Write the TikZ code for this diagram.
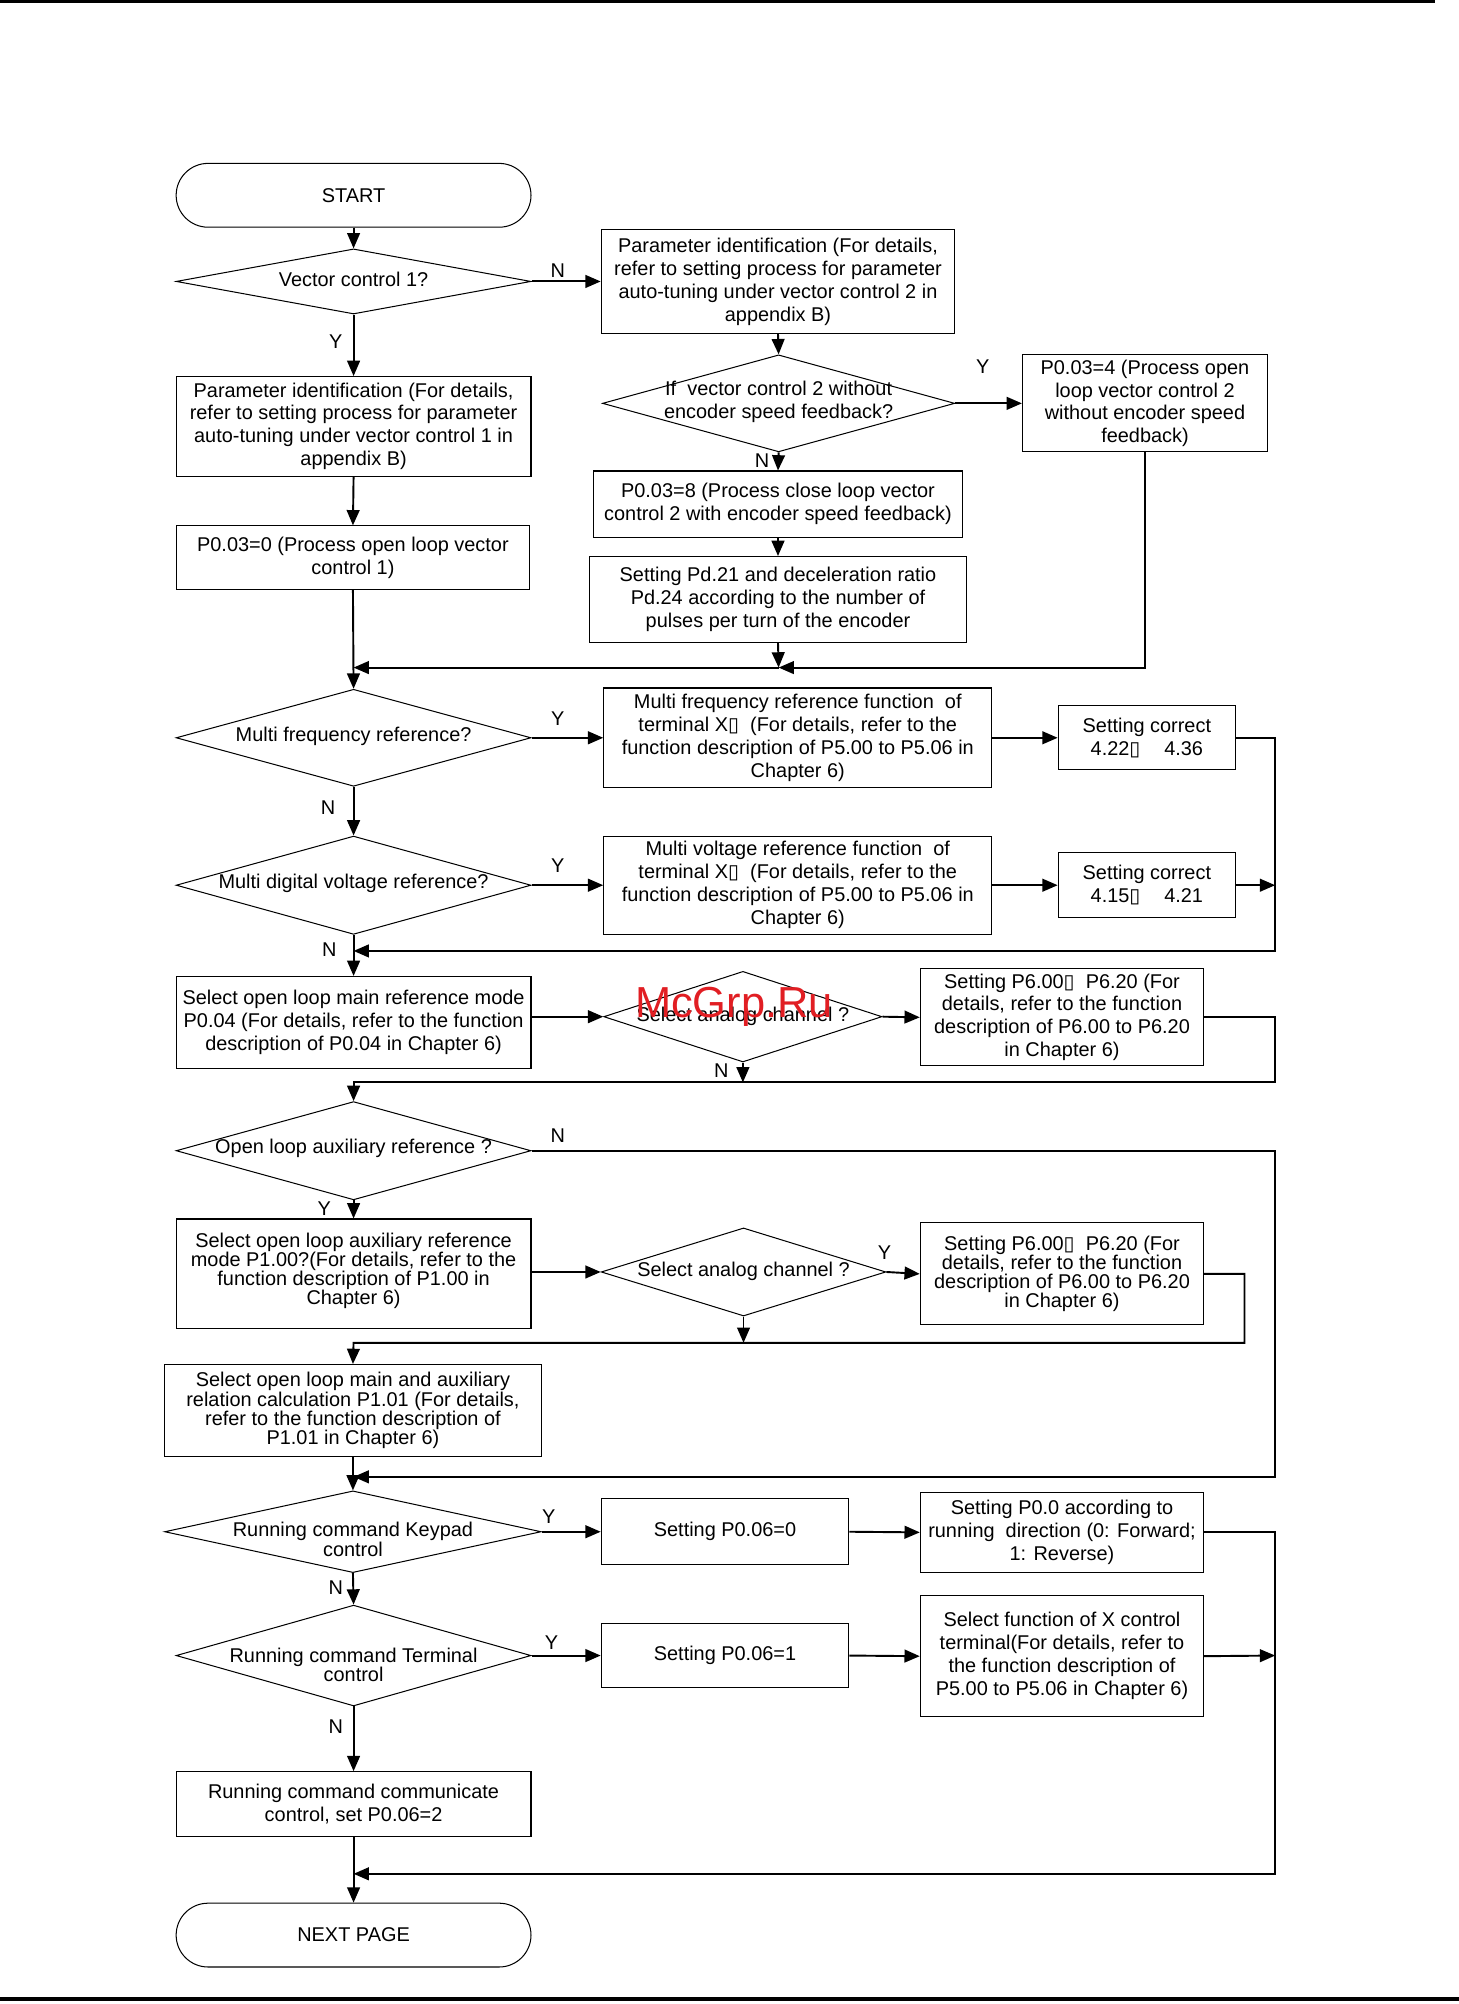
\documentclass[tikz,border=0pt]{standalone}
\usepackage{fontspec}
\setmainfont{Liberation Sans}
\newfontfamily\djv{DejaVu Sans}
\usetikzlibrary{shapes.geometric,arrows.meta}
\newcommand{\bxg}{{\djv\char"25AF}}
\definecolor{wmred}{RGB}{225,30,35}
\begin{document}
\begin{tikzpicture}[x=1pt,y=-1pt,
  font=\fontsize{15.6}{18}\selectfont,
  bx/.style 2 args={draw, line width=0.8pt, rectangle, inner sep=0pt, align=center, minimum width=#1, minimum height=#2},
  dm/.style 2 args={draw, diamond, line width=0.8pt, inner sep=0pt, minimum width=#1, minimum height=#2},
  term/.style={draw, line width=0.8pt, rounded corners=25pt, minimum width=278pt, minimum height=50pt, inner sep=0pt},
  txt/.style={inner sep=0pt, align=center},
  tight/.style={font=\fontsize{15.6}{15}\selectfont},
  lb/.style={inner sep=0pt},
  ar/.style={line width=1.5pt, -{Triangle[length=12pt,width=10pt]}},
  ln/.style={line width=1.5pt},
  rule/.style={line width=2.6pt}
]
\useasboundingbox (0,0) rectangle (1143,1570);
\coordinate (tl) at (0,1.3);
\coordinate (tr) at (1124,1.3);
\coordinate (bl) at (0,1566);
\coordinate (brr) at (1143,1566);
\draw[rule] (tl) -- (tr);
\draw[rule] (bl) -- (brr);

% ---------- nodes ----------
\node[term] (start) at (277,153) {START};
\node[dm={278pt}{51pt}] (d1) at (277,220.5) {};
\node[txt] (t1) at (277,219) {Vector control 1?};
\node[bx={277pt}{81pt}] (b2) at (609.5,220.5) {Parameter identification (For details,\\ refer to setting process for parameter\\ auto-tuning under vector control 2 in\\ appendix B)};
\node[bx={278pt}{78pt}] (b1) at (277,334) {Parameter identification (For details,\\ refer to setting process for parameter\\ auto-tuning under vector control 1 in\\ appendix B)};
\node[bx={277pt}{50pt}] (b3) at (276.5,437) {P0.03=0 (Process open loop vector\\ control 1)};
\node[dm={276pt}{76pt}] (d2) at (610,316) {};
\node[txt] (t2) at (610,315) {If\ \ vector control 2 without\\ encoder speed feedback?};
\node[bx={192pt}{76pt}] (b4) at (897,316) {P0.03=4 (Process open\\ loop vector control 2\\ without encoder speed\\ feedback)};
\node[bx={289pt}{52pt}] (b5) at (609.5,395) {P0.03=8 (Process close loop vector\\ control 2 with encoder speed feedback)};
\node[bx={295pt}{67pt}] (b6) at (609.5,469.5) {Setting Pd.21 and deceleration ratio\\ Pd.24 according to the number of\\ pulses per turn of the encoder};

\node[dm={278pt}{76pt}] (d3) at (277,578) {};
\node[txt] (t3) at (277,577) {Multi frequency reference?};
\node[bx={304pt}{78pt}] (b7) at (625,578) {Multi frequency reference function\ \ of\\ terminal X\bxg\ \ (For details, refer to the\\ function description of P5.00 to P5.06 in\\ Chapter 6)};
\node[bx={139pt}{50pt}] (b8) at (898.5,578) {Setting correct\\ 4.22\bxg\hspace{1.2em}4.36};

\node[dm={278pt}{77pt}] (d4) at (277,693.5) {};
\node[txt] (t4) at (277,692) {Multi digital voltage reference?};
\node[bx={304pt}{77pt}] (b9) at (625,693.5) {Multi voltage reference function\ \ of\\ terminal X\bxg\ \ (For details, refer to the\\ function description of P5.00 to P5.06 in\\ Chapter 6)};
\node[bx={139pt}{51pt}] (b10) at (898.5,693.5) {Setting correct\\ 4.15\bxg\hspace{1.2em}4.21};

\node[bx={278pt}{72pt}] (b11) at (277,801) {Select open loop main reference mode\\ P0.04 (For details, refer to the function\\ description of P0.04 in Chapter 6)};
\node[dm={218pt}{71pt}] (d5) at (582,796.5) {};
\node[txt] (t5) at (582,796) {Select analog channel ?};
\node[bx={222pt}{76pt}] (b12) at (832,797) {Setting P6.00\bxg\ \ P6.20 (For\\ details, refer to the function\\ description of P6.00 to P6.20\\ in Chapter 6)};

\node[dm={278pt}{77pt}] (d6) at (277,901.5) {};
\node[txt] (t6) at (277,900) {Open loop auxiliary reference ?};
\node[bx={278pt}{86pt}, tight] (b13) at (277,998) {};
\node[txt, tight] (t13) at (277,995.5) {Select open loop auxiliary reference\\ mode P1.00?(For details, refer to the\\ function description of P1.00 in\\ Chapter 6)};
\node[dm={223pt}{69pt}] (d7) at (582.5,996.5) {};
\node[txt] (t7) at (582.5,996) {Select analog channel ?};
\node[bx={222pt}{80pt}, tight] (b14) at (832,998) {Setting P6.00\bxg\ \ P6.20 (For\\ details, refer to the function\\ description of P6.00 to P6.20\\ in Chapter 6)};

\node[bx={295pt}{72pt}, tight] (b15) at (276.5,1105) {Select open loop main and auxiliary\\ relation calculation P1.01 (For details,\\ refer to the function description of\\ P1.01 in Chapter 6)};

\node[dm={295pt}{64pt}] (d8) at (276.5,1200) {};
\node[txt, tight] (t8) at (276.5,1206) {Running command Keypad\\ control};
\node[bx={194pt}{52pt}] (b16) at (568,1200) {Setting P0.06=0};
\node[bx={222pt}{63pt}] (b17) at (832,1200.5) {Setting P0.0 according to\\ running\ \ direction (0: Forward;\\ 1: Reverse)};

\node[dm={278pt}{79pt}] (d9) at (277,1297) {};
\node[txt, tight] (t9) at (277,1304) {Running command Terminal\\ control};
\node[bx={194pt}{50pt}] (b18) at (568,1297) {Setting P0.06=1};
\node[bx={222pt}{95pt}] (b19) at (832,1297.5) {Select function of X control\\ terminal(For details, refer to\\ the function description of\\ P5.00 to P5.06 in Chapter 6)};

\node[bx={278pt}{51pt}] (b20) at (277,1413.5) {Running command communicate\\ control, set P0.06=2};
\node[term] (next) at (277,1516) {NEXT PAGE};

% ---------- coordinates ----------
\coordinate (j1) at (610,523);
\coordinate (j2) at (277,523);
\coordinate (c3) at (999,745);
\coordinate (j3) at (277,745);
\coordinate (r10) at (999,693.5);
\coordinate (c5) at (999,848);
\coordinate (j4) at (277,848);
\coordinate (k5) at (582,848);
\coordinate (c6) at (999,1157);
\coordinate (j5) at (277,1157);
\coordinate (c7) at (975,1052);
\coordinate (j7) at (277,1052);
\coordinate (k7) at (582.5,1052);
\coordinate (c8) at (999,1468);
\coordinate (j8) at (277,1468);
\coordinate (r19) at (999,1297);

% ---------- connectors ----------
\draw[ar] (start.south) -- (d1.north);
\draw[ar] (d1.east) -- (b2.west);
\draw[ar] (d1.south) -- (b1.north);
\draw[ar] (b1.south) -- (b3.north);
\draw[ar] (b2.south) -- (d2.north);
\draw[ar] (d2.east) -- (b4.west);
\draw[ar] (d2.south) -- (b5.north);
\draw[ar] (b5.south) -- (b6.north);
\draw[ar] (b6.south) -- (j1);
\draw[ar] (b4.south) |- (j1);
\draw[ar] (j1) -- (j2);
\draw[ar] (b3.south) -- (d3.north);

\draw[ar] (d3.east) -- (b7.west);
\draw[ar] (b7.east) -- (b8.west);
\draw[ar] (b8.east) -| (c3) -- (j3);
\draw[ar] (d3.south) -- (d4.north);
\draw[ar] (d4.east) -- (b9.west);
\draw[ar] (b9.east) -- (b10.west);
\draw[ar] (b10.east) -- (r10);
\draw[ar] (d4.south) -- (b11.north);

\draw[ar] (d5.west -| b11.east) -- (d5.west);
\draw[ar] (d5.east) -- (b12.west);
\draw[ar] (b12.east) -| (c5) -- (j4) -- (d6.north);
\draw[ar] (d5.south) -- (k5);

\draw[ar] (d6.east) -| (c6) -- (j5);
\draw[ar] (d6.south) -- (b13.north);
\draw[ar] (d7.west -| b13.east) -- (d7.west);
\draw[ar] (d7.east) -- (b14.west);
\draw[ar] (b14.east) -| (c7) -- (j7) -- (b15.north);
\draw[ar] (d7.south) -- (k7);

\draw[ar] (b15.south) -- (d8.north);
\draw[ar] (d8.east) -- (b16.west);
\draw[ar] (b16.east) -- (b17.west);
\draw[ar] (b17.east) -| (c8) -- (j8);
\draw[ar] (d8.south) -- (d9.north);
\draw[ar] (d9.east) -- (b18.west);
\draw[ar] (b18.east) -- (b19.west);
\draw[ar] (b19.east) -- (r19);
\draw[ar] (d9.south) -- (b20.north);
\draw[ar] (b20.south) -- (next.north);

% ---------- labels ----------
\node[lb] (l1) at (437,212) {N};
\node[lb] (l2) at (263,268) {Y};
\node[lb] (l3) at (770,287) {Y};
\node[lb] (l4) at (597,361) {N};
\node[lb] (l5) at (437,563) {Y};
\node[lb] (l6) at (257,633) {N};
\node[lb] (l7) at (437,678) {Y};
\node[lb] (l8) at (258,744) {N};
\node[lb] (l9) at (565,839) {N};
\node[lb] (l10) at (437,890) {N};
\node[lb] (l11) at (254,947) {Y};
\node[lb] (l12) at (693,981) {Y};
\node[lb] (l13) at (430,1188) {Y};
\node[lb] (l14) at (263,1244) {N};
\node[lb] (l15) at (432,1287) {Y};
\node[lb] (l16) at (263,1353) {N};

% ---------- watermark ----------
\node[text=wmred, inner sep=0pt, font=\fontsize{34}{34}\selectfont] (wm) at (575,789) {McGrp.Ru};
\end{tikzpicture}
\end{document}
